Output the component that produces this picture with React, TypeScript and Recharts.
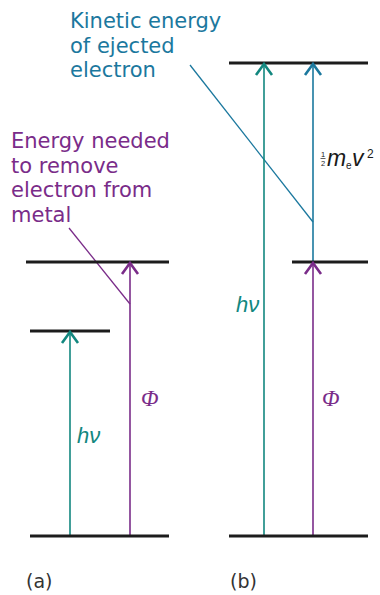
import * as React from "react";
import { ComposedChart, XAxis, YAxis, ReferenceLine, Scatter } from "recharts";

// energies, arbitrary units (ground state at 0)
const GROUND = 0;
const PHOTON_A = 2.05;
const WORK_FN = 2.74;
const PHOTON_B = 4.73;

// horizontal energy levels: [xStart, xEnd, energy]
const levelsA = [
  { from: 30, to: 169, energy: GROUND },
  { from: 30, to: 110, energy: PHOTON_A },
  { from: 26, to: 169, energy: WORK_FN },
];
const levelsB = [
  { from: 229, to: 368, energy: GROUND },
  { from: 292, to: 368, energy: WORK_FN },
  { from: 229, to: 368, energy: PHOTON_B },
];

// vertical transitions
const arrows = [
  { x: 70, from: GROUND, to: PHOTON_A, kind: "photon" },
  { x: 130, from: GROUND, to: WORK_FN, kind: "work" },
  { x: 264, from: GROUND, to: PHOTON_B, kind: "photon" },
  { x: 313, from: GROUND, to: WORK_FN, kind: "work" },
  { x: 313, from: WORK_FN, to: PHOTON_B, kind: "kinetic" },
];

// leader lines from the captions to the arrows
const leaders = [
  { x1: 190, y1: 4.71, x2: 313, y2: 3.14, kind: "kinetic" },
  { x1: 69, y1: 3.08, x2: 130, y2: 2.32, kind: "work" },
];

const captions = [
  { x: 70, y: 5.08, kind: "kinetic", lines: ["Kinetic energy", "of ejected", "electron"] },
  { x: 11, y: 3.88, kind: "work", lines: ["Energy needed", "to remove", "electron from", "metal"] },
];

const symbols = [
  { x: 77, y: 0.93, kind: "photon", text: "hν" },
  { x: 236, y: 2.24, kind: "photon", text: "hν" },
  { x: 141, y: 1.3, kind: "work", text: "Φ" },
  { x: 322, y: 1.3, kind: "work", text: "Φ" },
];

const panelLabels = [
  { x: 26, y: -0.52, text: "(a)" },
  { x: 230, y: -0.52, text: "(b)" },
];

const kineticLabel = [{ x: 320, y: 3.7 }];

const COLORS: Record<string, string> = {
  photon: "#12877f",
  work: "#7a2c89",
  kinetic: "#1b789e",
};
const LEVEL = "#1c1c1c";
const SANS = "'DejaVu Sans', sans-serif";

const arrowTips = arrows.map((a) => ({ x: a.x, y: a.to, kind: a.kind }));

const ArrowHead = (props: any) => {
  const { cx, cy, payload } = props;
  return (
    <path
      d={`M${cx - 8},${cy + 12} L${cx},${cy + 1} L${cx + 8},${cy + 12}`}
      fill="none"
      stroke={COLORS[payload.kind]}
      strokeWidth={2.6}
    />
  );
};

const Caption = (props: any) => {
  const { cx, cy, payload } = props;
  return (
    <text x={cx} y={cy} fill={COLORS[payload.kind]} fontFamily={SANS} fontSize={21}>
      {payload.lines.map((line: string, j: number) => (
        <tspan key={j} x={cx} dy={j === 0 ? 0 : 24.5}>
          {line}
        </tspan>
      ))}
    </text>
  );
};

const Symbol = (props: any) => {
  const { cx, cy, payload } = props;
  const isPhi = payload.text === "Φ";
  return (
    <text
      x={cx}
      y={cy}
      fill={COLORS[payload.kind]}
      fontFamily={isPhi ? "'Liberation Serif', serif" : "'Liberation Sans', sans-serif"}
      fontStyle="italic"
      fontSize={isPhi ? 23 : 22}
    >
      {payload.text}
    </text>
  );
};

const KineticTerm = (props: any) => {
  const { cx, cy } = props;
  return (
    <g fill="#1a1a1a" fontFamily="'Liberation Sans', sans-serif">
      <text x={cx + 3} y={cy - 8.6} fontSize={7.5} textAnchor="middle">1</text>
      <line x1={cx + 0.5} x2={cx + 5.5} y1={cy - 7.5} y2={cy - 7.5} stroke="#1a1a1a" strokeWidth={0.7} />
      <text x={cx + 3} y={cy} fontSize={7.5} textAnchor="middle">2</text>
      <text x={cx + 7} y={cy} fontSize={23} fontStyle="italic">m</text>
      <text x={cx + 26} y={cy + 3} fontSize={10}>e</text>
      <text x={cx + 32} y={cy} fontSize={23} fontStyle="italic">v</text>
      <text x={cx + 47} y={cy - 8} fontSize={12}>2</text>
    </g>
  );
};

const PanelLabel = (props: any) => {
  const { cx, cy, payload } = props;
  return (
    <text x={cx} y={cy} fill="#333" fontFamily={SANS} fontSize={19}>
      {payload.text}
    </text>
  );
};

export default function App() {
  return (
    <div style={{ position: "absolute", left: 0, top: 0, width: 380, height: 595, background: "#fff" }}>
      <ComposedChart width={380} height={595} margin={{ top: 0, right: 0, bottom: 0, left: 0 }}>
        <XAxis type="number" dataKey="x" domain={[0, 380]} hide />
        <YAxis type="number" dataKey="y" domain={[-0.59, 5.36]} hide />

        {leaders.map((l, i) => (
          <ReferenceLine
            key={`ld${i}`}
            segment={[{ x: l.x1, y: l.y1 }, { x: l.x2, y: l.y2 }]}
            stroke={COLORS[l.kind]}
            strokeWidth={1.3}
          />
        ))}

        {arrows.map((a, i) => (
          <ReferenceLine
            key={`sh${i}`}
            segment={[{ x: a.x, y: a.from }, { x: a.x, y: a.to }]}
            stroke={COLORS[a.kind]}
            strokeWidth={1.6}
          />
        ))}

        {[...levelsA, ...levelsB].map((l, i) => (
          <ReferenceLine
            key={`lv${i}`}
            segment={[{ x: l.from, y: l.energy }, { x: l.to, y: l.energy }]}
            stroke={LEVEL}
            strokeWidth={3}
          />
        ))}

        <Scatter data={arrowTips} shape={ArrowHead} isAnimationActive={false} />
        <Scatter data={captions} shape={Caption} isAnimationActive={false} />
        <Scatter data={symbols} shape={Symbol} isAnimationActive={false} />
        <Scatter data={kineticLabel} shape={KineticTerm} isAnimationActive={false} />
        <Scatter data={panelLabels} shape={PanelLabel} isAnimationActive={false} />
      </ComposedChart>
    </div>
  );
}
